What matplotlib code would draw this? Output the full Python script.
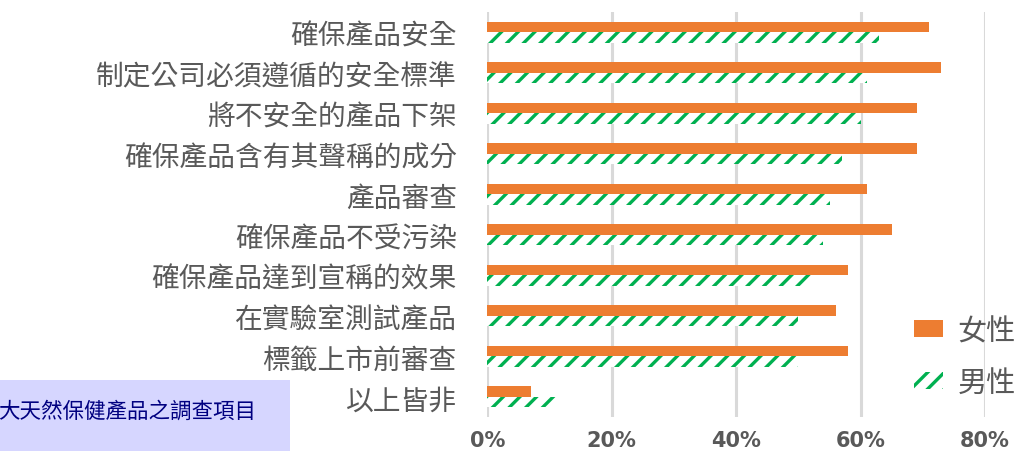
import matplotlib
matplotlib.use("Agg")
import matplotlib.pyplot as plt
from matplotlib.patches import Rectangle, Patch
from matplotlib.ticker import PercentFormatter
import numpy as np

plt.rcParams['font.family'] = ['Noto Sans CJK TC', 'DejaVu Sans']
plt.rcParams['hatch.linewidth'] = 2.4

# Survey items, top to bottom
categories = [
    "確保產品安全",
    "制定公司必須遵循的安全標準",
    "將不安全的產品下架",
    "確保產品含有其聲稱的成分",
    "產品審查",
    "確保產品不受污染",
    "確保產品達到宣稱的效果",
    "在實驗室測試產品",
    "標籤上市前審查",
    "以上皆非",
]
female = [0.71, 0.73, 0.69, 0.69, 0.61, 0.65, 0.58, 0.56, 0.58, 0.07]
male = [0.63, 0.61, 0.60, 0.57, 0.55, 0.54, 0.52, 0.50, 0.50, 0.11]
series_names = ["女性", "男性"]
x_ticks = [0, 0.2, 0.4, 0.6, 0.8]

orange = "#ED7D31"
green = "#00B050"
gray = "#595959"

fig = plt.figure(figsize=(10.25, 4.52), dpi=100)
ax = fig.add_axes([0.4755, 0.0752, 0.4855, 0.8965])

y = np.arange(len(categories))
h = 0.26
ax.barh(y - h / 2, female, height=h, color=orange, zorder=3)
ax.barh(y + h / 2, male, height=h, color="white", edgecolor=green,
        hatch="//", linewidth=0, zorder=3)

ax.set_ylim(len(categories) - 0.5, -0.5)
ax.set_xlim(0, 0.8)
ax.set_yticks(y)
ax.set_yticklabels(categories, fontsize=20, color=gray)
ax.set_xticks(x_ticks)
ax.xaxis.set_major_formatter(PercentFormatter(1.0, decimals=0))
for lbl in ax.get_xticklabels():
    lbl.set_fontsize(15)
    lbl.set_fontweight("bold")
    lbl.set_color(gray)
    lbl.set_family("DejaVu Sans")
ax.tick_params(axis="both", length=0)
ax.tick_params(axis="y", pad=22)
ax.tick_params(axis="x", pad=9)

ax.grid(axis="x", color="#D9D9D9", linewidth=2.2, zorder=0)
for s in ax.spines.values():
    s.set_visible(False)
ax.axvline(0, color="#D9D9D9", linewidth=2.2, zorder=1)

handles = [
    Patch(facecolor=orange, edgecolor=orange, linewidth=0),
    Patch(facecolor="white", edgecolor=green, hatch="//", linewidth=0),
]
leg = fig.legend(handles, series_names, loc="center left",
                 bbox_to_anchor=(0.866, 0.208), frameon=False,
                 fontsize=21, labelspacing=0.75, handlelength=1.0,
                 handleheight=0.5, handletextpad=0.5)
for t in leg.get_texts():
    t.set_color(gray)

# caption box at lower left
fig.add_artist(Rectangle((0, 0), 290 / 1025, 71 / 452, transform=fig.transFigure,
                         facecolor="#D6D6FF", edgecolor="none", zorder=5))
fig.text(-0.002, 40 / 452, "大天然保健產品之調查項目", fontsize=15.5,
         color="#000080", va="center", ha="left", zorder=6)

fig.savefig("out.png", dpi=100)
